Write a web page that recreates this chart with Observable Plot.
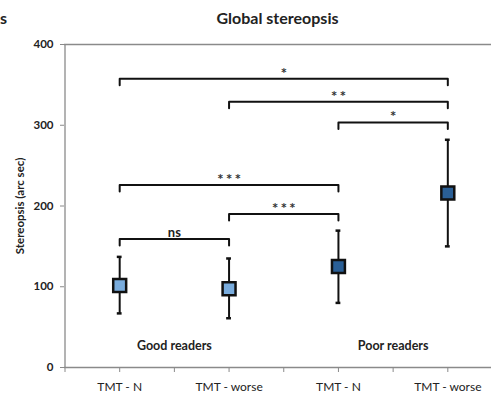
<!DOCTYPE html>
<html><head><meta charset="utf-8">
<script src="https://cdn.jsdelivr.net/npm/d3@7"></script>
<script src="https://cdn.jsdelivr.net/npm/@observablehq/plot@0.6"></script>
<style>
body{margin:0;width:491px;height:405px;overflow:hidden;background:#fff;font-family:Lato,sans-serif;position:relative}
#title{position:absolute;left:64px;right:0;top:8px;text-align:center;font-weight:bold;font-size:16px;color:#222}
#side{position:absolute;left:0;top:8px;font-weight:bold;font-size:16px;color:#222}
#chart{position:absolute;left:0;top:32px;width:491px;overflow:hidden}
</style></head><body>
<div id="side">s</div><div id="title">Global stereopsis</div><div id="chart"></div>
<script>
const groups = ["Good readers","Good readers","Poor readers","Poor readers"];
const conditions = ["TMT - N","TMT - worse","TMT - N","TMT - worse"];
const means = [101.5, 97.5, 125, 216];
const upper = [137, 135, 169.5, 282];
const lower = [67, 61, 80, 150];
const colors = ["#79acdd","#79acdd","#2a5f96","#2a5f96"];
const groupNames = ["Good readers","Poor readers"];
const bracketFrom = [0,1,2,0,1,0];
const bracketTo = [3,3,3,2,2,1];
const bracketY = [357.5,329,303.5,226,190,159];
const bracketLabel = ["*","**","*","***","***","ns"];
const yTicks = [0,100,200,300,400];

const points = means.map((m,i)=>({i, cond:conditions[i], group:groups[i], mean:m, hi:upper[i], lo:lower[i], color:colors[i]}));
const brackets = bracketFrom.map((f,k)=>({k, from:f, to:bracketTo[k], y:bracketY[k], label:bracketLabel[k]}));
const stars = brackets.filter(b=>b.label!=="ns");
const nsLabels = brackets.filter(b=>b.label==="ns");
const bracketPath = brackets.flatMap(b=>[
  {k:b.k, x:b.from, y:b.y-8},{k:b.k, x:b.from, y:b.y},{k:b.k, x:b.to, y:b.y},{k:b.k, x:b.to, y:b.y-8}]);
const halfTicks = d3.range(-0.5, conditions.length, 0.5);
const capW = 0.022;

const chart = Plot.plot({
  width: 491, height: 373,
  marginTop: 12, marginBottom: 38, marginLeft: 64, marginRight: 0,
  x: {type:"linear", domain:[-0.5, 3.5], range:[64.5, 502], label:null},
  y: {domain:[0,400], range:[335,12], label:null},
  color: {type:"identity"},
  style: {fontFamily:"Lato, sans-serif", fontSize:"11px", color:"#222", background:"#fff"},
  marks: [
    Plot.ruleY([400], {stroke:"#8a8a8a", strokeWidth:1.3}),
    Plot.ruleY([0], {stroke:"#8a8a8a", strokeWidth:1.3}),
    Plot.ruleX([-0.5], {stroke:"#8a8a8a", strokeWidth:1.3}),
    Plot.axisX({ticks:halfTicks, tickSize:5, tickFormat:()=>"", stroke:"#8a8a8a", label:null}),
    Plot.axisX({ticks:d3.range(conditions.length), tickSize:0, tickPadding:15, tickFormat:i=>conditions[i], fontSize:12, fill:"#222", label:null}),
    Plot.axisY({ticks:yTicks, tickSize:4, tickPadding:7, stroke:"#8a8a8a", fill:"#222", fontWeight:"bold", fontSize:11.5,
      label:"Stereopsis (arc sec)", labelAnchor:"center", labelOffset:49, labelArrow:"none"}),
    Plot.ruleX(points, {x:"i", y1:"lo", y2:"hi", stroke:"#111", strokeWidth:2}),
    Plot.ruleY(points, {y:"hi", x1:d=>d.i-capW, x2:d=>d.i+capW, stroke:"#111", strokeWidth:2.5}),
    Plot.ruleY(points, {y:"lo", x1:d=>d.i-capW, x2:d=>d.i+capW, stroke:"#111", strokeWidth:2.5}),
    Plot.dot(points, {x:"i", y:"mean", symbol:"square", r:7.3, fill:"color", stroke:"#111", strokeWidth:2.5, fillOpacity:1}),
    Plot.line(bracketPath, {x:"x", y:"y", z:"k", stroke:"#111", strokeWidth:2, curve:"linear"}),
    Plot.text(stars, {x:d=>(d.from+d.to)/2, y:"y", text:d=>d.label.split("").join(" "), lineAnchor:"bottom", dy:-3,
      fontFamily:"DejaVu Sans", fontWeight:"bold", fontSize:10, fill:"#333"}),
    Plot.text(nsLabels, {x:d=>(d.from+d.to)/2, y:"y", text:"label", lineAnchor:"bottom", dy:-2,
      fontWeight:"bold", fontSize:13, fill:"#222"}),
    Plot.text(groupNames, {x:(d,j)=>j*2+0.5, frameAnchor:"bottom", dy:-18, text:d=>d, fontWeight:"bold", fontSize:12.5, fill:"#222"})
  ]
});
document.getElementById("chart").appendChild(chart);
</script>
</body></html>
